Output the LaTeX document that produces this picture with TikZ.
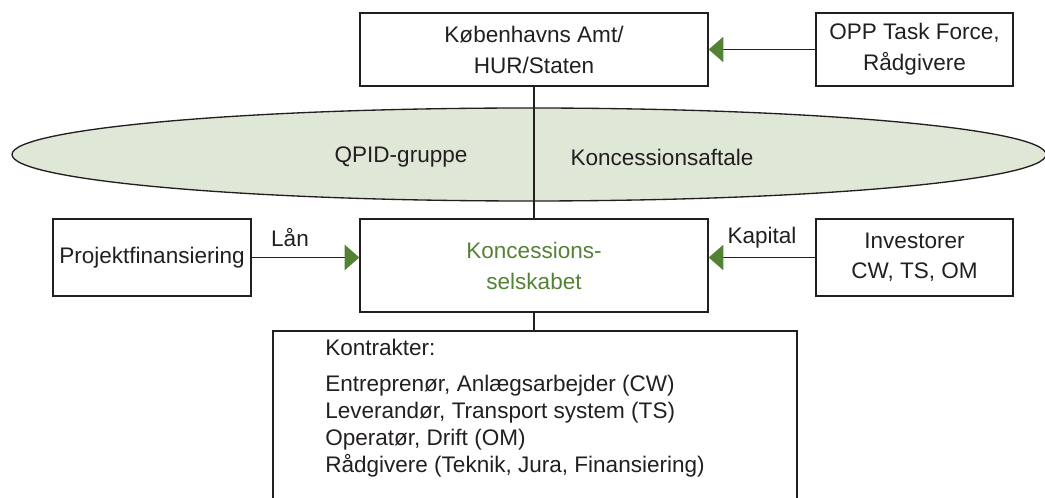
\documentclass[tikz,border=0pt]{standalone}
\usepackage{fontspec}
\setmainfont{Liberation Sans}
\usetikzlibrary{arrows.meta,shapes.geometric}
\definecolor{kgreen}{RGB}{84,130,53}
\definecolor{kfill}{RGB}{223,231,214}
\definecolor{kline}{RGB}{35,31,32}

\begin{document}
\begin{tikzpicture}[x=0.75pt,y=0.75pt,yscale=-1,
  boks/.style={draw=kline,line width=1pt,rectangle,inner sep=0pt,align=center,text=kline,font=\fontsize{16.9}{23.25}\selectfont},
  pil/.style={draw=kline,line width=1pt,-{Triangle[length=11pt,width=19pt,color=kgreen]}},
  tekst/.style={inner sep=0pt,text=kline,font=\fontsize{16.9}{20.25}\selectfont}]
%set diagram size to 1045 x 498
\clip (0,0) rectangle (1045,498);

%Shape: Ellipse
\node (aftale) at (529,154.5) [ellipse,draw=kline,fill=kfill,line width=1pt,inner sep=0pt,minimum width=775.5pt,minimum height=69.75pt] {};

%Shape: Rectangles
\node (amt) at (534,49.5) [boks,minimum width=261pt,minimum height=54.75pt] {Københavns Amt/\\HUR/Staten};
\node (opp) at (914.5,49.5) [boks,minimum width=147.75pt,minimum height=54.75pt] {OPP Task Force,\\Rådgivere};
\node (proj) at (152,257.5) [boks,minimum width=148.5pt,minimum height=57.75pt] {Projektfinansiering};
\node (selskab) at (534,265.5) [boks,minimum width=261pt,minimum height=69.75pt,text=kgreen] {Koncessions-\\selskabet};
\node (inv) at (914.5,257.5) [boks,minimum width=147.75pt,minimum height=57.75pt,font=\fontsize{16.9}{22.5}\selectfont] {Investorer\\CW, TS, OM};
\node (kontr) at (535,431) [boks,minimum width=393pt,minimum height=150pt] {};

%Straight Lines
\draw [kline,line width=1pt] (amt.south) -- (selskab.north);
\draw [kline,line width=1pt] (selskab.south) -- (selskab.south |- kontr.north);
\draw [pil] (opp.west) -- (amt.east);
\draw [pil] (proj.east) -- (proj.east -| selskab.west);
\draw [pil] (inv.west) -- (inv.west -| selskab.east);

% Text Node
\node (qpid) at (401,157) [tekst] {QPID-gruppe};
% Text Node
\node (aftaletekst) at (662,157) [tekst] {Koncessionsaftale};
% Text Node
\node (laan) at (290,238) [tekst] {Lån};
% Text Node
\node (kapital) at (762,238) [tekst] {Kapital};
% Text Node
\node (kliste) at (325,338.5) [tekst,anchor=north west,align=left] {Kontrakter:\\[6.75pt]Entreprenør, Anlægsarbejder (CW)\\Leverandør, Transport system (TS)\\Operatør, Drift (OM)\\Rådgivere (Teknik, Jura, Finansiering)};

\end{tikzpicture}
\end{document}
